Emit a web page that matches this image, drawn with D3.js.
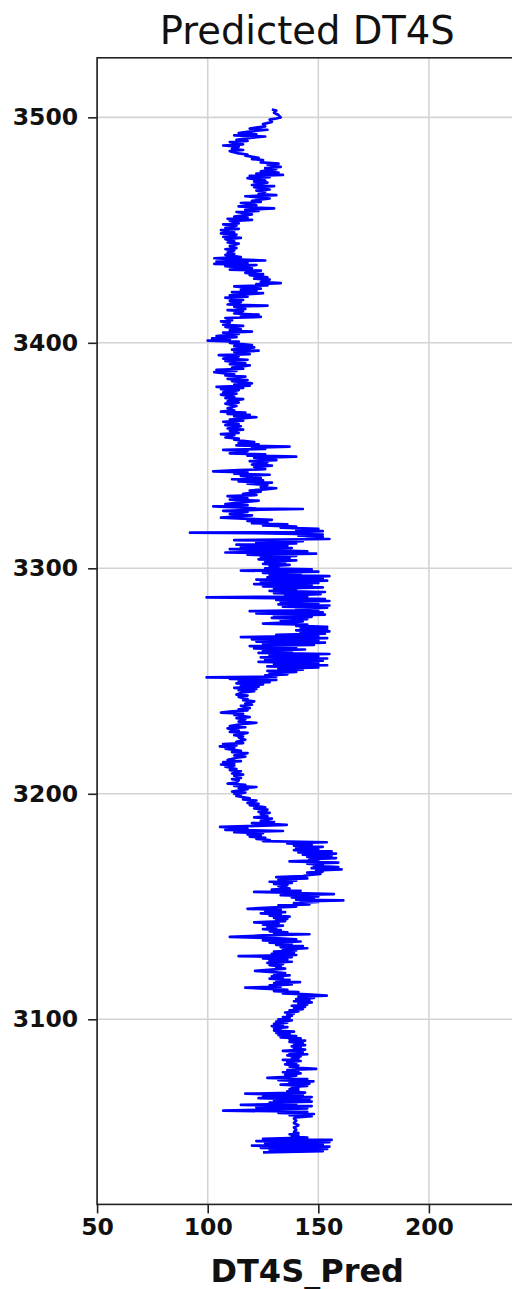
<!DOCTYPE html>
<html>
<head>
<meta charset="utf-8">
<script src="https://cdn.jsdelivr.net/npm/d3@7"></script>
<style>
  body { margin: 0; background: #fff; }
  svg text { font-family: "DejaVu Sans", sans-serif; }
</style>
</head>
<body>
<svg id="chart" width="512" height="1289"></svg>
<script>
// Axis settings
const chartTitle = "Predicted DT4S";
const xLabel = "DT4S_Pred";
const xTicks = [50, 100, 150, 200];
const yTicks = [3100, 3200, 3300, 3400, 3500];
const xDomain = [50, 240];
const yDomain = [3017.9, 3526.4];

// Predicted shear slowness log: [depth, DT4S_Pred]
const dt4sPred = [
  [3503.5,129],[3503,131],[3502,130],[3501,132],[3500,133],[3499.5,131],[3499,128],[3498,129],
  [3497,125],[3496,126],[3495,119],[3494.5,127],[3494,121],[3493,114],[3492.5,122],[3492,112],
  [3491.5,126],[3491,120],[3490,113],[3489.5,118],[3489,110],[3488,116],[3487.5,107],[3487,114],
  [3486,111],[3485.5,116],[3485,110],[3484,114],[3483.5,118],[3483,117],[3482,123],[3481.5,120],
  [3481,125],[3480,124],[3479.5,132],[3479,127],[3478,133],[3477.5,126],[3477,131],[3476,124],
  [3475.5,132],[3475,122],[3474.5,134],[3474,119],[3473.5,128],[3473,118],[3472,126],[3471.5,121],
  [3471,127],[3470,120],[3469.5,130],[3469,121],[3468,128],[3467.5,122],[3467,126],[3466,123],
  [3465.5,131],[3465,117],[3464,128],[3463,120],
  [3462.5,124],[3462,115],[3461,122],[3460.5,114],[3460,121],[3459.6,130],[3459,117],[3458.5,123],
  [3458,113],[3457,120],[3456,112],[3455.5,118],[3455,109],[3454.5,120],[3454,110],[3453,114],
  [3452.5,107],[3452,113],[3451,108],[3450.5,114],[3450,106],[3449,112],[3448.5,106],[3448,113],
  [3447,107],[3446.5,115],[3446,108],[3445,112],[3444.5,109],[3444,114],[3443,110],[3442,113],
  [3441.5,108],[3441,112],[3440,109],[3439.5,112],[3439,108],[3438,115],[3437.5,103],[3437,112],
  [3436.5,126],[3436,104],[3435.5,118],[3435,103],[3434.5,122],[3434,108],[3433,120],[3432.5,110],
  [3432,124],[3431,117],[3430.5,125],[3430,119],[3429,127],[3428.5,121],[3428,128],[3427,124],
  [3426.5,133],[3426,122],[3425.5,127],[3425,112],[3424,124],[3423.5,115],[3423,122],
  [3422.5,111],[3422,125],[3421,110],[3420.5,118],[3420,108],[3419,116],[3418.5,110],[3418,115],
  [3417,109],[3416.5,127],[3416,112],[3415,117],[3414.5,109],[3414,116],[3413,112],[3412.5,123],
  [3412,115],[3411.5,124],[3411,108],[3410,111],[3409.5,106],[3409,110],[3408,107],[3407.5,116],
  [3407,108],[3406,115],[3405.5,110],[3405,120],[3404.5,107],[3404,114],[3403,104],[3402.5,113],
  [3402,102],[3401.5,110],[3401,100],[3400.5,114],[3400,110],[3399,120],[3398.5,112],[3398,121],
  [3397,111],[3396.5,123],[3396,112],[3395,119],[3394.5,105],[3394,114],[3393,107],[3392.5,118],
  [3392,108],[3391,117],[3390.5,110],[3390,119],[3389,111],[3388.5,116],[3388,104],[3387.5,113],
  [3387,103],[3386,112],[3385.5,108],[3385,117],[3384,109],[3383.5,118],[3383,111],[3382,120],
  [3381.5,112],
  [3381,119],[3380.5,104],[3380,116],[3379.5,106],[3379,114],[3378,107],[3377.5,113],[3377,106],
  [3376,112],[3375.5,108],[3375,116],[3374,109],[3373.5,114],[3373,108],[3372,113],[3371,109],
  [3370,112],[3369.5,106],[3369,117],[3368.5,109],[3368,119],[3367.5,112],[3367,122],[3366,110],
  [3365.5,116],[3365,107],[3364,114],[3363.5,108],[3363,115],[3362,109],[3361.5,116],[3361,110],
  [3360,114],[3359.5,106],[3359,112],[3358,108],[3357.5,114],[3357,112],[3356,121],[3355.5,114],
  [3355,123],[3354.5,113],[3354,137],[3353.5,120],[3353,126],[3352.5,107],[3352,118],[3351,110],
  [3350.5,126],[3350,118],[3349.5,140],[3349,121],[3348,131],[3347.5,119],[3347,127],[3346,120],
  [3345.5,129],[3345,121],[3344,126],[3343.5,114],[3343,102.5],[3342.5,118],[3342,112],[3341.5,128],
  [3341,115],[3340,124],[3339.5,111],[3339,125],
  [3338.5,114],[3338,129],[3337.5,118],[3337,127],[3336,124],[3335.5,131],[3335,126],[3334.5,119],
  [3334,124],[3333,116],[3332.5,122],[3332,109],[3331,118],[3330.5,110],[3330,123],[3329,113],
  [3328.5,108],[3328,118],[3327.5,102.5],[3327,114],[3326.5,122],[3326.3,143],[3326,124],[3325.5,107],
  [3325,118],[3324,110],[3323.5,120],[3322.5,106],[3322,116],[3321.5,129],[3321,118],[3320.5,127],
  [3320,120],[3319.5,136],[3319,125],[3318.5,140],[3318,133],[3317.5,150],[3317,140],[3316.5,152],
  [3316,140],[3315.8,92],[3315.5,128],[3315,152],[3314.5,141],[3314,152],[3313.5,145],[3313,155],
  [3312.5,112],[3312,143],[3311.5,122],[3311,140],[3310.5,113],[3310,136],[3309.5,115],[3309,138],
  [3308.5,110],[3308,130],[3307.5,145],[3307,108],[3306.5,149],[3306,118],[3305.5,140],[3305,124],
  [3304.5,137],[3304,123],[3303.5,140],[3303,126],[3302.5,135],[3302,125],[3301.5,137],[3301,128],
  [3300.5,132],[3300,126],[3299.5,147],[3299,115],[3298.5,150],[3298,125],[3297.5,142],
  [3297,128],[3296.5,155],[3296,127],[3295.5,152],[3295,122],[3294.5,154],[3294,124],[3293.5,150],
  [3293,121],[3292.5,147],[3292,125],[3291.5,152],[3291,130],[3290.5,140],[3290,128],[3289.5,153],
  [3289,130],[3288.5,151],[3288,135],[3287.5,145],[3287.1,99.5],[3286.7,140],[3286.3,153],[3286,131],
  [3285.5,155],[3285,133],[3284.5,150],[3284,132],[3283.5,155],[3283,134],[3282.5,154],[3282,140],
  [3281.5,150],[3281,119],[3280.5,152],[3280,122],[3279.5,153],[3279,130],[3278.5,147],[3278,129],
  [3277.5,145],[3277,133],[3276.5,143],[3276,137],[3275.5,125],[3275,145],[3274.5,140],[3274,154],
  [3273.5,142],[3273,154],[3272.5,140],[3272,155],[3271.5,142],[3271,153],[3270.5,131],[3270,150],
  [3269.5,115],[3269,154],[3268.5,120],[3268,150],[3267.5,122],[3267,153],[3266.5,125],[3266,148],
  [3265.5,119],[3265,140],[3264.5,121],[3264,144],[3263.5,125],[3263,138],[3262.5,123],[3262,155],
  [3261.5,128],[3261,150],[3260.5,124],[3260,154],[3259.5,126],[3259,152],[3258.5,123],[3258,150],
  [3257.5,130],[3257,154],[3256.5,127],[3256,150],[3255.5,132],
  [3255,143],[3254.5,127],[3254,140],[3253.5,128],[3253,136],[3252.5,126],[3252,131],[3251.6,99.5],
  [3251.3,127],[3251,110],[3250.5,131],[3250,114],[3249.5,128],[3249,113],[3248.5,125],[3248,115],
  [3247.5,123],[3247,112],[3246.5,122],[3246,114],[3245.5,121],[3245,116],[3244,113],[3243.5,118],
  [3243,114],[3242,118],[3241.5,116],[3241,121],[3240,117],[3239.5,120],[3239,115],[3238,119],
  [3237.5,114],[3237,118],[3236.5,110],[3236,106],[3235.5,116],[3235,112],[3234,119],[3233.5,113],
  [3233,117],[3232,114],[3231.5,122],[3231,116],[3230,110],[3229.5,117],[3229,109],[3228,114],
  [3227.5,110],[3227,118],[3226,112],[3225.5,116],[3225,114],[3224,117],[3223,113],[3222.5,116],
  [3222,107],[3221.5,113],[3221,105.5],[3220.5,112],[3220,108],[3219,115],[3218.5,111],[3218,118],
  [3217,112],[3216.5,117],[3216,113],[3215,109],[3214.5,115],[3214,107],[3213.5,112],
  [3213,106],[3212.5,112],[3212,108],[3211,113],[3210.5,110],[3210,115],[3209,111],[3208.5,116],
  [3208,112],[3207,115],[3206.5,111],[3206,114],[3205,113],[3204.5,109],[3204,117],[3203.5,112],
  [3203,122],[3202.5,114],[3202,118],[3201,111],[3200.5,117],[3200,112],[3199.5,115],[3199,113],
  [3198,119],[3197.5,116],[3197,122],[3196,118],[3195.5,123],[3195,119],[3194,126],[3193.5,121],
  [3193,127],[3192,123],[3191.5,128],[3191,124],[3190,127],[3189.5,121],[3189,129],[3188,124],
  [3187.5,130],[3187,120],[3186.2,135.7],[3185.8,122],[3185.3,105.6],[3185,112],[3184.5,118],[3184,108],
  [3183.5,134],[3183,112],[3182.5,125],[3182,118],[3181.5,124],[3181,119],[3180.5,126],[3180,122],
  [3179.5,128],[3179,125],[3178.5,153.8],[3178,136],[3177.5,147],[3177,139],[3176.5,152],[3176,140],
  [3175.5,150],[3175,139],[3174.5,156],[3174,141],[3173.5,158],[3173,143],[3172.5,156],[3172,145],
  [3171.5,158],[3171,146],
  [3170.5,150],[3170,137],[3169.5,159],[3169,145],[3168.5,152],[3168,148],[3167.5,159],[3167,147],
  [3166.5,160.5],[3166,149],[3165.5,152],[3165,145],[3164.5,151],[3164,146],[3163.5,143],[3163,131],
  [3162.5,145],[3162,132],[3161.5,140],[3161,128],[3160.5,138],[3160,130],[3159.5,136],[3159,132],
  [3158,137],[3157.5,129],[3157,142],[3156.5,121],[3156,140],[3155.5,157],[3155,133],[3154.5,150],
  [3154,138],[3153.5,148],[3153,140],[3152.7,161.3],[3152.3,142],[3152,150],[3151.5,139],[3151,146],
  [3150.5,132],[3150,140],[3149.5,128],[3149,118],[3148.5,133],[3148,126],[3147.5,135],[3147,124],
  [3146.5,133],[3146,128],[3145.5,137],[3145,130],[3144.5,136],[3144,131],[3143.5,135],[3143,121],
  [3142.5,132],[3142,125],[3141.5,134],[3141,127],[3140.5,131],[3140,125],[3139.5,133],[3139,128],
  [3138.5,136],[3138,130],[3137.7,146],[3137.2,125],[3136.5,110],[3136,130],[3135.5,140],[3135,125],
  [3134.5,142],[3134,128],[3133.5,138],[3133,131],[3132.5,143],[3132,133],[3131.5,145],[3131,134],
  [3130.5,140],[3130,130],[3129.5,139],[3129,129],
  [3128.5,140],[3128,114],[3127.5,138],[3127,125],[3126.5,136],[3126,128],[3125.5,138],[3125,127],
  [3124.5,134],[3124,128],[3123.5,133],[3123,131],[3122.5,135],[3122,129],[3121.5,121.4],[3121,128],
  [3120.5,135],[3120,130],[3119.5,137],[3119,129],[3118.5,134],[3118,128],[3117.5,137],[3117,131],
  [3116.5,141.7],[3116,130],[3115.5,138],[3115,128],[3114.5,133],[3114,117],[3113.5,128],[3113,136],
  [3112.5,130],[3112,141],[3111.5,134],[3111,145],[3110.5,153.8],[3110,141],[3109.5,148],[3109,140],
  [3108.5,146],[3108,139],[3107.5,147],[3107,141],[3106.5,145],[3106,138],[3105.5,144],[3105,139],
  [3104.5,143],[3104,137],[3103.5,141],[3103,135],[3102.5,139],[3102,136],[3101.5,138],[3101,134],
  [3100.5,137],[3100,132],[3099.5,138],[3099,131],[3098.5,136],[3098,130],[3097.5,134],[3097,129],
  [3096.5,136],[3096,130],[3095.5,133],[3095,130],[3094.5,139],[3094,131],[3093.5,137],[3093,132],
  [3092.5,140],[3092,133],[3091.5,142],[3091,137],[3090.5,144],[3090,137],[3089.5,143],[3089,139],
  [3088.5,144],[3088,138],[3087.5,142],[3087,139],
  [3086.5,144],[3086,134],[3085.5,143],[3085,137],[3084.5,145],[3084,136],[3083.5,142],[3083,138],
  [3082.5,141],[3082,134],[3081.5,142],[3081,136],[3080.5,140],[3080,135],[3079.5,141],[3079,137],
  [3078.5,141],[3078,149],[3077.5,136],[3077,141],[3076.5,134],[3076,142],[3075.5,135],[3075,140],
  [3074.5,136],[3074,127],[3073.5,145],[3073,132],[3072.5,147.8],[3072,137],[3071.5,146],[3071,133],
  [3070.5,145],[3070,138],[3069.5,141],[3069,137],[3068.5,141],[3068,136],[3067.5,144],[3067,117],
  [3066.5,143],[3066,125],[3065.5,147],[3065,123],[3064.5,146],[3064,130],[3063.5,147],[3063,128],
  [3062.5,140],[3062,115],[3061.5,147],[3061,122],[3060.5,145],[3060,128],[3059.5,107],[3059,145],
  [3058.5,132],[3058,148],[3057.5,137],[3057,147],[3056.5,140],[3056,139],[3055,140],[3054,139],
  [3053,141],[3052,139],[3051,140],[3050,139],[3049.5,141],[3049,137],[3048.5,141],[3048,138],
  [3047.5,145],[3047,125],[3046.5,156],[3046,122],[3045.5,155],[3045,126],[3044.5,152],[3044,120],
  [3043.5,155],[3043,124],[3042.5,154],[3042,128],[3041.5,152],[3041,125]
];

const svg = d3.select("#chart");

// Plot area in pixels (right edge runs just past the canvas)
const plotLeft = 97.1, plotRight = 517.4, plotTop = 57.8, plotBottom = 1204.4;

const x = d3.scaleLinear().domain(xDomain).range([plotLeft, plotRight]);
const y = d3.scaleLinear().domain(yDomain).range([plotBottom, plotTop]);

// Grid
const grid = svg.append("g").attr("class", "grid");
grid.selectAll("line.vgrid").data(xTicks).join("line")
  .attr("class", "vgrid")
  .attr("x1", d => x(d)).attr("x2", d => x(d))
  .attr("y1", plotTop).attr("y2", plotBottom)
  .attr("stroke", "#d4d4d4").attr("stroke-width", 1.6);
grid.selectAll("line.hgrid").data(yTicks).join("line")
  .attr("class", "hgrid")
  .attr("x1", plotLeft).attr("x2", plotRight)
  .attr("y1", d => y(d)).attr("y2", d => y(d))
  .attr("stroke", "#d4d4d4").attr("stroke-width", 1.6);

// Log curve
const line = d3.line()
  .x(d => x(d[1]))
  .y(d => y(d[0]));

svg.append("path")
  .datum(dt4sPred)
  .attr("fill", "none")
  .attr("stroke", "#0000ff")
  .attr("stroke-width", 2.7)
  .attr("stroke-linejoin", "round")
  .attr("d", line);

// Axes
const yAxis = d3.axisLeft(y).tickValues(yTicks).tickSize(9).tickPadding(10).tickFormat(d3.format("d"));
const xAxis = d3.axisBottom(x).tickValues(xTicks).tickSize(9).tickPadding(5).tickFormat(d3.format("d"));

const gy = svg.append("g").attr("transform", `translate(${plotLeft},0)`).call(yAxis);
const gx = svg.append("g").attr("transform", `translate(0,${plotBottom})`).call(xAxis);

[gx, gy].forEach(g => {
  g.select(".domain").remove();
  g.selectAll(".tick line").attr("stroke", "#222").attr("stroke-width", 1.6);
  g.selectAll(".tick text")
    .attr("fill", "#111")
    .style("font-family", "'DejaVu Sans', sans-serif")
    .style("font-size", "23.5px")
    .style("font-weight", "bold");
});

// Frame (left, top, bottom spines; right spine lies outside the canvas)
svg.append("rect")
  .attr("x", plotLeft).attr("y", plotTop)
  .attr("width", plotRight - plotLeft).attr("height", plotBottom - plotTop)
  .attr("fill", "none").attr("stroke", "#222").attr("stroke-width", 1.6);

// Title
svg.append("text")
  .attr("x", (plotLeft + plotRight) / 2)
  .attr("y", 44)
  .attr("text-anchor", "middle")
  .style("font-size", "38.5px")
  .attr("fill", "#111")
  .text(chartTitle);

// X-axis label
svg.append("text")
  .attr("x", (plotLeft + plotRight) / 2)
  .attr("y", 1282)
  .attr("text-anchor", "middle")
  .style("font-size", "32px")
  .style("font-weight", "bold")
  .attr("fill", "#111")
  .text(xLabel);
</script>
</body>
</html>
